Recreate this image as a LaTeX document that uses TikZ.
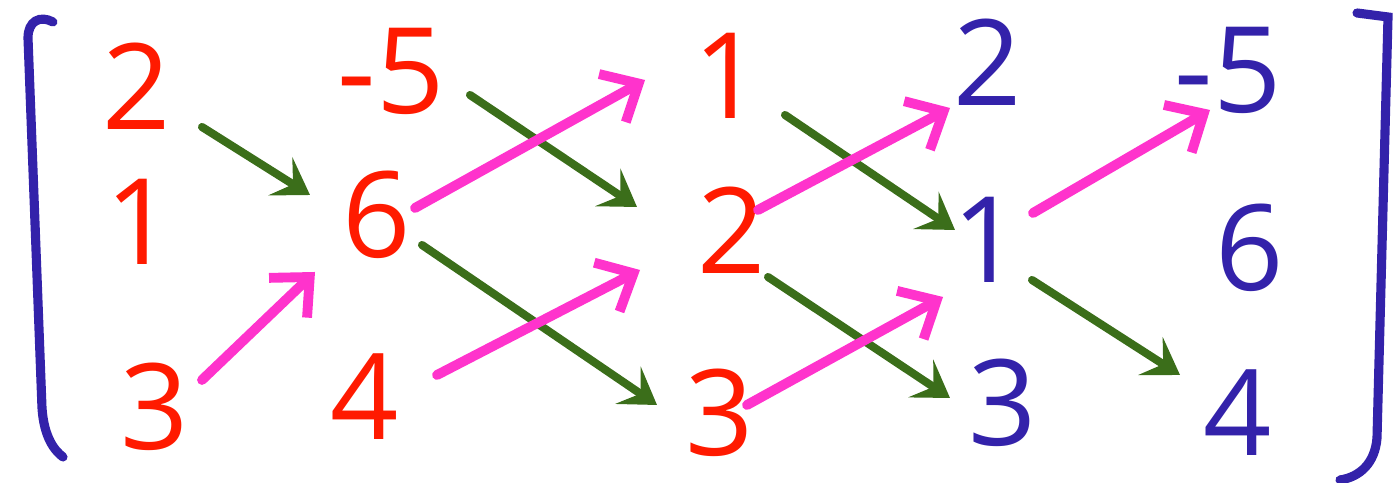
\documentclass[tikz,border=0pt]{standalone}
\usepackage{fontspec}
\setmainfont{Open Sans}
\usetikzlibrary{arrows.meta}
\definecolor{hred}{HTML}{FF1A00}
\definecolor{hblue}{HTML}{3322AA}
\definecolor{hgreen}{HTML}{3B6E1A}
\definecolor{hpink}{HTML}{FF33CC}

\begin{document}
\begin{tikzpicture}[
  line cap=round,  rnum/.style={text=hred,inner sep=0pt,font=\fontsize{34}{40}\selectfont},  bnum/.style={text=hblue,inner sep=0pt,font=\fontsize{34}{40}\selectfont},  garr/.style={draw=hgreen,line width=2.3pt,-{Stealth[length=3.5mm,width=4.5mm,inset=1.5mm]}},  parr/.style={draw=hpink,line width=2.8pt,-{Straight Barb[length=3mm,width=5.5mm]}},  bracket/.style={draw=hblue,line width=2.6pt}
]
  \useasboundingbox (0,0) rectangle (13.97,4.83);
  \node[rnum] (m11) at (1.37,3.97) {2};
  \node[rnum] (m21) at (1.40,2.61) {1};
  \node[rnum] (m31) at (1.55,0.76) {3};
  \node[rnum] (m12) at (3.91,4.12) {-5};
  \node[rnum] (m22) at (3.77,2.68) {6};
  \node[rnum] (m32) at (3.65,0.86) {4};
  \node[rnum] (m13) at (7.28,4.07) {1};
  \node[rnum] (m23) at (7.32,2.53) {2};
  \node[rnum] (m33) at (7.20,0.70) {3};
  \node[bnum] (m14) at (9.88,4.21) {2};
  \node[bnum] (m24) at (9.87,2.43) {1};
  \node[bnum] (m34) at (10.03,0.80) {3};
  \node[bnum] (m15) at (12.28,4.13) {-5};
  \node[bnum] (m25) at (12.50,2.35) {6};
  \node[bnum] (m35) at (12.38,0.70) {4};
  \draw[bracket] (0.53,4.61) .. controls (0.40,4.68) and (0.28,4.62) .. (0.28,4.45) -- (0.42,0.75) .. controls (0.44,0.45) and (0.55,0.32) .. (0.63,0.26);
  \draw[bracket] (13.57,4.70) -- (13.88,4.66) -- (13.77,0.45) .. controls (13.75,0.20) and (13.60,0.06) .. (13.40,0.03);
  \draw[garr] ([shift={(0.65,-0.41)}]m11.center) -- ([shift={(-0.67,0.20)}]m22.center);
  \draw[parr] ([shift={(0.47,0.27)}]m31.center) -- ([shift={(-0.62,-0.57)}]m22.center);
  \draw[garr] ([shift={(0.79,-0.24)}]m12.center) -- ([shift={(-0.95,0.23)}]m23.center);
  \draw[parr] ([shift={(0.38,0.07)}]m22.center) -- ([shift={(-0.83,-0.04)}]m13.center);
  \draw[garr] ([shift={(0.45,-0.30)}]m22.center) -- ([shift={(-0.63,0.08)}]m33.center);
  \draw[parr] ([shift={(0.72,0.22)}]m32.center) -- ([shift={(-0.92,-0.40)}]m23.center);
  \draw[garr] ([shift={(0.57,-0.39)}]m13.center) -- ([shift={(-0.32,0.10)}]m24.center);
  \draw[parr] ([shift={(0.26,0.20)}]m23.center) -- ([shift={(-0.38,-0.46)}]m14.center);
  \draw[garr] ([shift={(0.36,-0.47)}]m23.center) -- ([shift={(-0.53,0.05)}]m34.center);
  \draw[parr] ([shift={(0.27,0.08)}]m33.center) -- ([shift={(-0.44,-0.57)}]m24.center);
  \draw[parr] ([shift={(0.46,0.27)}]m24.center) -- ([shift={(-0.18,-0.40)}]m15.center);
  \draw[garr] ([shift={(0.45,-0.40)}]m24.center) -- ([shift={(-0.58,0.38)}]m35.center);
\end{tikzpicture}
\end{document}
